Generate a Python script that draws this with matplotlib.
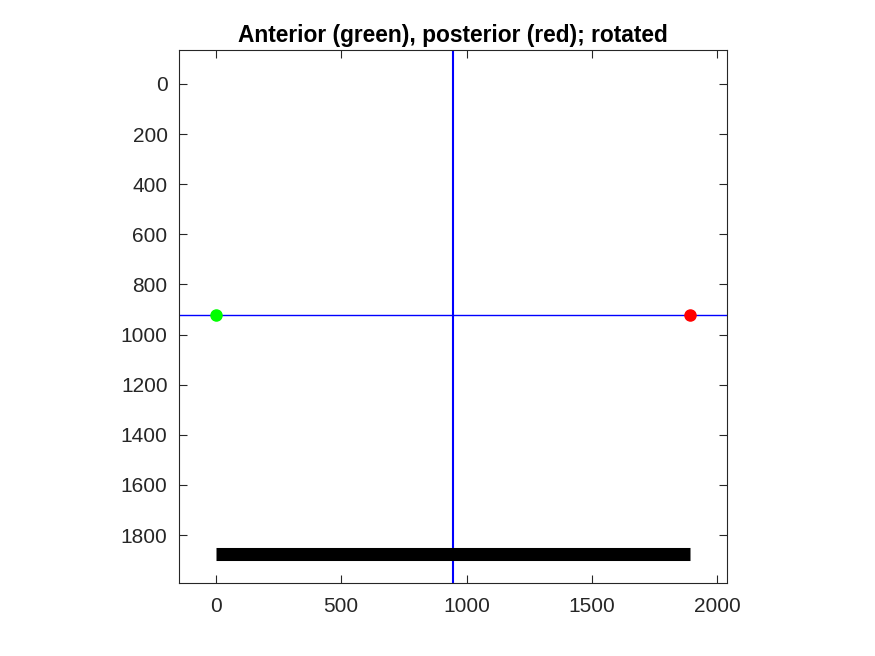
import numpy as np
from matplotlib import pyplot as plt

# points
anterior_x = [0]
anterior_y = [922]
posterior_x = [1892]
posterior_y = [922]
midline_y = 922
centre_x = 948
bar_x = [0, 1892]
bar_y = [1874, 1874]

x_ticks = [0, 500, 1000, 1500, 2000]
y_ticks = [0, 200, 400, 600, 800, 1000, 1200, 1400, 1600, 1800]

plt.rcParams['font.family'] = ['Liberation Sans', 'DejaVu Sans']

fig = plt.figure(figsize=(8.75, 6.56), dpi=100)
ax = fig.add_axes([0.2042, 0.1117, 0.627, 0.8116])

ax.axhline(midline_y, color=(0, 0, 1), lw=1.0)
ax.axvline(centre_x, color=(0, 0, 1), lw=1.5)
ax.plot(bar_x, bar_y, color='k', lw=9.4, solid_capstyle='butt')
ax.plot(anterior_x, anterior_y, 'o', color=(0, 1, 0), ms=8, mec=(0, 1, 0))
ax.plot(posterior_x, posterior_y, 'o', color=(1, 0, 0), ms=8, mec=(1, 0, 0))

ax.set_xlim(-148, 2040)
ax.set_ylim(1990, -134)
ax.set_xticks(x_ticks)
ax.set_yticks(y_ticks)

dark = '#262626'
ax.tick_params(direction='in', length=6, width=0.8, top=True, right=True,
               colors=dark, labelsize=15, pad=8)
ax.tick_params(axis='x', pad=10)
for s in ax.spines.values():
    s.set_color(dark)
    s.set_linewidth(0.8)

ax.set_title('Anterior (green), posterior (red); rotated', fontsize=16.4,
             fontweight='bold', pad=6)

fig.savefig('out.png', dpi=100)
